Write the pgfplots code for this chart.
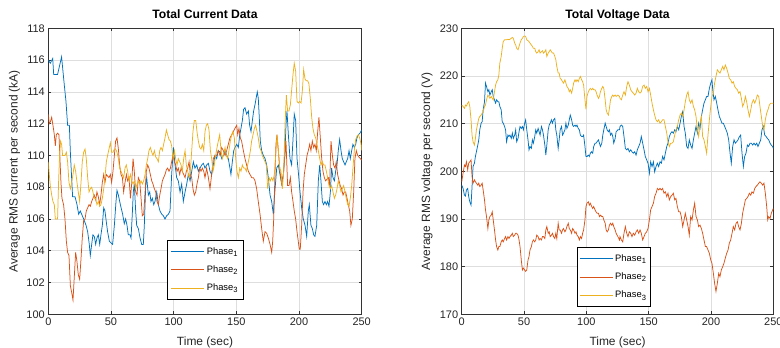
\documentclass[border=0pt]{standalone}
\usepackage{fontspec}
\setmainfont{Liberation Sans}
\usepackage{pgfplots}
\pgfplotsset{compat=1.18}
\definecolor{c1}{rgb}{0,0.447,0.741}
\definecolor{c2}{rgb}{0.85,0.325,0.098}
\definecolor{c3}{rgb}{0.929,0.694,0.125}
\newcommand{\sub}[1]{\raisebox{-0.45ex}{\fontsize{7.6}{8}\selectfont #1}}
\pgfplotsset{
  mstyle/.style={
    scale only axis, height=286bp,
    xmin=0, xmax=250, xtick={0,50,...,250},
    grid=major, grid style={color=black!13, line width=0.5bp},
    axis line style={color=black!80, line width=0.5bp},
    tick style={color=black!80, line width=0.5bp},
    tick align=inside, major tick length=3bp,
    /pgf/number format/assume math mode=true,
    ticklabel style={font=\fontsize{11}{13}\selectfont, color=black!85},
    label style={font=\fontsize{12}{14}\selectfont, color=black!85},
    xlabel style={at={(axis description cs:0.5,-0.108)}, anchor=base},
    title style={font=\bfseries\fontsize{12.2}{14}\selectfont, at={(axis description cs:0.5,1.015)}, anchor=base, yshift=0pt},
    legend cell align=left,
    legend image code/.code={\draw[#1, line width=0.75bp] plot coordinates {(0bp,0bp) (33bp,0bp)};},
    legend style={draw=black, line width=0.6bp, fill=white,
      font=\fontsize{9.4}{11}\selectfont, inner ysep=5bp, row sep=6bp},
    every axis plot/.append style={line width=0.75bp},
  }
}
\begin{document}
\begin{tikzpicture}
\path[use as bounding box] (0,0) rectangle (780bp,348bp);
\begin{axis}[mstyle, width=313.4bp, at={(48.3bp,33.7bp)}, anchor=south west,
  ymin=100, ymax=118, ytick={100,102,...,118},
  title={Total Current Data}, xlabel={Time (sec)},
  ylabel={Average RMS current per second (kA)},
  ylabel style={at={(axis description cs:-0.108,0.5)}, anchor=center},
  legend style={at={(axis description cs:0.378,0.26)}, anchor=north west, inner xsep=4bp}]
\addplot[c1] coordinates {
(0,116.0) (1.6,115.8) (3.5,116.1) (4.3,115.1) (7.4,115.1) (10.6,116.2) (12.8,114.4) (14.1,113.4) (15.4,111.9) (16.8,111.9) (17.6,110.2) (18.6,108.6) (19.4,107.4) (21.3,107.4) (22.9,106.9) (24.2,106.3) (25.5,106.5) (26.6,106.3) (28.2,106.0) (30.1,105.6) (31.4,105.2) (32.7,104.4) (33.5,103.7) (34.6,104.4) (35.6,105.0) (36.7,104.9) (37.8,104.4) (38.8,104.8) (39.9,105.0) (41.0,104.4) (42.0,105.0) (43.1,105.6) (44.2,106.7) (45.2,106.5) (46.3,105.8) (47.3,105.2) (48.7,104.6) (50.0,104.5) (51.3,104.4) (52.7,105.6) (54.0,107.1) (54.8,107.8) (55.9,107.5) (57.5,106.9) (59.3,106.3) (60.6,105.7) (61.7,106.0) (62.8,105.6) (63.8,105.0)
(65.2,105.0) (66.0,104.8) (67.0,106.3) (67.8,107.7) (68.6,108.2) (69.7,106.5) (70.5,105.6) (71.8,105.4) (73.2,104.8) (74.5,104.4) (75.8,104.4) (76.6,105.6) (77.7,108.1) (78.5,108.6) (79.8,107.5) (80.9,107.7) (81.9,107.1) (83.0,107.3) (84.1,106.9) (85.1,107.1) (86.5,107.7) (87.8,106.9) (89.1,106.5) (90.5,106.3) (91.8,106.2) (93.1,106.0) (94.4,106.2) (95.8,106.3) (97.1,106.5) (98.4,108.8) (99.8,110.5) (101.1,109.4) (102.4,108.6) (103.7,108.4) (105.1,107.7) (106.4,108.2) (107.7,107.1) (109.1,107.7) (110.4,108.2) (111.7,108.8) (113.1,108.4) (114.4,109.0) (115.7,109.6) (117.0,109.2) (118.4,109.4) (119.7,109.0) (121.0,109.2) (122.4,109.4) (123.7,109.5) (125.0,109.2)
(126.3,109.4) (127.7,109.5) (129.0,109.0) (130.3,108.8) (131.6,109.4) (133.0,110.0) (134.3,109.8) (135.6,110.3) (137.0,110.2) (138.3,109.8) (139.6,110.0) (141.0,110.3) (142.3,110.0) (143.6,109.8) (144.9,109.2) (145.7,108.8) (146.8,109.6) (147.9,110.3) (148.9,110.5) (150.3,110.7) (151.6,110.5) (152.7,111.3) (153.7,111.7) (154.8,112.2) (155.8,112.9) (156.9,113.0) (158.2,112.6) (159.6,112.8) (160.6,111.9) (161.7,111.5) (162.8,112.2) (163.8,112.8) (164.9,113.2) (166.0,113.7) (166.7,114.0) (167.5,113.6) (168.3,112.4) (169.1,110.9) (170.2,110.3) (171.5,110.0) (172.9,109.8) (174.2,109.4) (175.5,108.6) (176.9,107.5) (178.2,107.1) (179.5,106.3) (180.3,107.3) (181.4,108.4) (182.2,109.2) (183.5,109.4) (184.8,108.8) (186.2,108.2) (187.5,108.8) (188.8,110.3) (189.6,111.9) (190.4,112.8)
(191.5,111.3) (192.8,109.8) (194.1,109.4) (195.4,111.3) (196.2,112.6) (197.3,112.2) (198.4,109.8) (199.4,109.0) (200.8,107.7) (202.1,106.7) (203.4,106.0) (204.8,105.6) (206.1,104.9) (207.4,106.5) (208.2,106.9) (209.5,105.6) (210.6,105.4) (211.7,105.0) (212.7,104.9) (214.1,105.6) (215.4,108.4) (216.5,109.4) (217.5,108.4) (218.6,107.1) (219.6,106.9) (220.7,107.1) (221.8,106.9) (222.8,107.1) (223.9,106.8) (225.0,107.7) (226.0,109.2) (227.1,108.6) (228.2,108.4) (229.2,109.0) (230.3,109.4) (231.3,110.3) (232.4,111.0) (233.5,110.3) (234.5,109.8) (235.6,109.6) (236.7,109.4) (237.7,109.6) (238.8,109.8) (239.9,110.3) (240.9,109.8) (242.0,110.3) (243.0,110.7) (244.1,110.5) (245.2,110.7) (246.2,111.1) (247.3,111.3) (248.6,111.4) (250.0,111.6)
};
\addplot[c2] coordinates {
(0,112.6) (0.8,112.0) (1.6,112.1) (2.7,112.4) (3.7,111.9) (4.8,111.3) (5.6,110.6) (6.4,111.3) (7.4,111.4) (8.5,111.3) (9.3,109.8) (10.1,108.3) (10.9,107.3) (12.2,106.9) (13.3,106.0) (14.4,104.6) (15.4,103.9) (16.5,103.7) (17.6,101.8) (18.6,101.4) (19.7,100.9) (20.7,102.3) (21.8,103.9) (22.9,103.3) (23.9,102.5) (25.0,102.2) (26.1,103.5) (27.1,104.8) (28.2,105.9) (29.3,106.0) (30.3,106.5) (31.4,106.7) (32.5,106.9) (33.5,106.8) (34.6,107.1) (35.6,107.3) (36.7,107.5) (37.8,107.2) (38.8,107.7) (39.9,107.4) (41.0,106.9) (42.0,107.5) (43.1,108.3) (44.2,108.8) (45.2,108.3) (46.3,108.8) (47.3,108.7) (48.4,108.6) (49.5,108.8) (50.5,108.3) (51.6,109.0) (52.7,110.0) (53.7,110.9) (54.8,111.1) (55.9,110.4) (56.9,109.4) (58.0,108.8) (59.1,108.6) (60.1,107.7) (61.2,108.3)
(62.3,108.8) (63.3,108.4) (64.4,108.6) (65.5,107.3) (66.5,108.2) (67.6,109.8) (68.6,109.0) (69.7,107.7) (70.8,107.5) (71.8,108.6) (72.9,108.4) (74.0,107.3) (75.0,106.2) (76.1,106.3) (77.2,107.7) (78.2,109.0) (79.3,109.4) (80.3,109.2) (81.4,108.8) (82.5,108.4) (83.5,108.2) (84.6,107.9) (85.7,107.7) (86.7,107.1) (87.8,106.9) (88.9,107.5) (89.9,107.9) (91.0,108.4) (92.0,108.6) (93.1,108.8) (94.2,109.1) (95.2,109.2) (96.3,109.0) (97.4,109.2) (98.4,109.6) (99.5,110.0) (100.6,109.6) (101.6,109.4) (102.7,109.0) (103.7,109.2) (104.8,108.8) (105.9,109.2) (106.9,109.0) (108.0,108.8) (109.1,108.6) (110.1,109.0) (111.2,109.2) (112.3,109.6) (113.3,108.8) (114.4,108.6) (115.4,107.9) (116.5,107.5) (117.6,107.7) (118.6,108.2) (119.7,108.6) (120.8,109.2) (121.8,109.0) (122.9,109.2) (124.0,109.0) (125.0,108.6)
(126.3,109.2) (127.7,108.6) (129.0,107.9) (130.3,108.8) (131.6,109.8) (133.0,110.0) (134.3,110.0) (135.6,110.3) (137.0,110.0) (138.3,110.5) (139.6,110.3) (141.0,110.0) (142.3,110.3) (143.6,110.7) (144.9,111.1) (146.3,111.3) (147.6,111.5) (148.9,111.7) (150.3,111.9) (151.1,111.3) (152.1,111.7) (153.2,111.1) (154.2,110.9) (155.6,110.3) (156.9,109.8) (158.2,109.4) (159.6,109.0) (160.9,108.8) (162.3,108.6) (163.6,108.6) (164.9,108.4) (166.2,107.9) (167.5,107.1) (168.9,106.3) (170.2,105.4) (171.5,104.6) (172.9,105.2) (174.2,105.1) (175.5,104.8) (176.9,104.4) (178.2,103.9) (179.0,104.6) (179.8,106.0) (180.8,108.8) (181.6,110.7) (182.4,111.3) (183.5,110.3) (184.8,109.0) (186.2,108.2) (187.5,108.8) (188.8,110.0) (189.6,110.9)
(190.9,108.1) (192.0,108.1) (193.1,108.6) (194.1,107.7) (195.2,107.1) (196.2,106.5) (197.3,106.0) (198.4,105.2) (199.4,104.6) (200.2,104.1) (201.0,104.1) (202.1,105.6) (203.2,107.7) (204.2,108.8) (205.3,109.4) (206.4,110.0) (207.4,110.3) (208.5,110.7) (209.5,110.3) (210.6,110.9) (211.7,110.5) (212.7,110.7) (213.8,110.3) (214.9,111.5) (215.9,112.4) (217.0,111.1) (218.1,109.8) (219.1,109.0) (220.2,108.6) (221.2,108.4) (222.3,108.5) (223.4,108.6) (224.4,108.1) (225.5,110.9) (226.6,110.0) (227.6,109.4) (228.7,109.2) (229.7,109.6) (230.8,108.8) (231.9,108.4) (232.9,108.1) (234.0,107.9) (235.1,107.5) (236.1,107.7) (237.2,107.7) (238.3,107.3) (239.3,106.9) (240.4,106.5) (241.4,105.6) (242.5,106.0) (243.6,107.7) (244.6,109.8) (245.7,110.3) (246.8,110.0) (247.8,109.9) (248.9,109.8) (250.0,109.7)
};
\addplot[c3] coordinates {
(0,109.6) (0.8,108.8) (1.6,108.1) (2.7,107.5) (3.7,107.1) (4.8,106.9) (5.6,106.0) (6.4,106.0) (7.4,106.0) (8.2,108.3) (9.0,110.0) (9.8,110.9) (10.6,110.7) (11.4,110.0) (12.2,110.0) (13.3,110.0) (14.4,110.2) (15.4,109.6) (16.5,108.3) (17.6,107.9) (18.6,108.3) (19.7,108.8) (20.7,109.4) (21.8,109.0) (22.9,108.3) (23.9,107.7) (25.0,107.1) (26.1,108.3) (27.1,109.6) (28.2,110.2) (29.3,110.4) (30.3,109.8) (31.4,108.6) (32.5,107.7) (33.5,107.9) (34.6,108.0) (35.6,107.7) (36.7,107.3) (37.8,107.3) (38.8,106.9) (39.9,107.1) (41.0,106.8) (42.0,106.9) (43.1,107.3) (44.2,107.9) (45.2,108.6) (46.3,109.6) (47.3,110.0) (48.4,110.4) (49.5,110.8) (50.5,110.2) (51.6,110.2) (52.7,110.4) (53.7,110.4) (54.8,110.2) (55.9,109.8) (56.9,109.2) (58.0,109.0) (59.1,108.8) (60.1,108.6) (61.2,109.2) (62.2,109.4) (63.3,109.0)
(64.4,108.4) (65.5,108.8) (66.5,108.4) (67.6,108.2) (68.6,108.4) (69.7,107.9) (70.8,108.2) (71.8,108.4) (72.9,108.2) (74.0,108.4) (75.0,108.2) (76.1,108.4) (77.2,108.8) (78.2,109.4) (79.3,109.8) (80.3,110.3) (81.4,110.5) (82.5,110.2) (83.5,110.0) (84.6,110.3) (85.7,109.9) (86.7,109.8) (87.8,109.6) (88.9,110.3) (89.9,110.5) (91.0,110.3) (92.0,110.7) (93.1,111.1) (94.2,111.6) (95.2,111.3) (96.3,111.0) (97.4,110.9) (98.4,110.6) (99.5,109.8) (100.6,110.3) (101.6,109.8) (102.7,109.4) (103.7,109.8) (104.8,109.6) (105.9,109.4) (106.9,109.0) (108.0,109.8) (109.1,110.3) (110.1,109.4) (111.2,109.0) (112.3,108.6) (113.3,109.0) (114.4,110.3) (115.4,111.5) (116.5,112.2) (117.6,112.2) (118.6,111.5) (119.7,110.9) (120.8,110.5) (121.8,110.4) (122.9,110.7) (124.0,110.3) (125.0,111.5)
(126.1,111.9) (127.1,112.0) (128.2,111.6) (129.3,110.3) (130.3,109.8) (131.4,109.0) (132.4,109.4) (133.5,110.0) (134.6,110.5) (135.6,110.9) (136.7,111.3) (137.8,110.3) (138.8,109.8) (139.9,110.1) (141.0,110.5) (142.0,110.0) (143.1,109.8) (144.1,110.3) (145.2,110.9) (146.3,111.3) (147.3,111.5) (148.4,111.1) (149.5,109.8) (150.5,109.0) (151.6,108.6) (152.7,109.2) (153.7,109.0) (154.8,109.4) (155.8,109.2) (156.9,109.2) (158.0,109.0) (159.0,109.4) (160.1,109.8) (161.2,110.3) (162.2,110.9) (163.3,111.3) (164.4,111.7) (165.4,111.9) (166.5,111.5) (167.5,111.1) (168.6,110.5) (169.7,110.3) (170.7,110.0) (171.8,109.8) (172.9,109.6) (173.9,109.4) (175.0,107.9) (176.1,108.6) (177.1,108.4) (178.2,108.6) (179.2,108.4) (180.3,108.8) (181.4,110.0) (182.4,111.3) (183.5,110.3) (184.6,109.2) (185.6,109.0) (186.7,107.9) (187.8,109.0) (188.8,111.9) (189.9,113.8) (190.9,112.8)
(192.0,112.8) (193.1,113.2) (194.1,114.1) (195.2,115.1) (196.2,115.8) (197.3,115.3) (198.4,113.4) (199.4,113.3) (200.5,113.4) (201.6,113.3) (202.6,114.0) (203.7,115.4) (204.8,114.8) (205.8,114.7) (206.9,114.7) (207.9,114.5) (209.0,113.6) (210.1,112.4) (211.1,111.7) (212.2,111.3) (213.3,111.1) (214.3,110.7) (215.4,110.3) (216.5,109.8) (217.5,109.4) (218.6,109.6) (219.6,109.4) (220.7,109.4) (221.8,109.0) (222.8,108.6) (223.9,108.1) (225.0,107.9) (226.0,108.1) (227.1,107.7) (228.2,107.3) (229.2,107.5) (230.3,107.9) (231.3,108.4) (232.4,108.1) (233.5,107.7) (234.5,107.9) (235.6,108.1) (236.7,107.7) (237.7,107.3) (238.8,106.9) (239.9,106.8) (240.9,107.3) (242.0,108.1) (243.0,109.2) (244.1,110.3) (245.2,111.0) (246.2,111.2) (247.3,111.3) (248.4,111.1) (249.5,110.7) (250.0,110.3)
};
\legend{Phase\sub{1},Phase\sub{2},Phase\sub{3}}
\end{axis}
\begin{axis}[mstyle, width=311.6bp, at={(461.7bp,33.7bp)}, anchor=south west,
  ymin=170, ymax=230, ytick={170,180,...,230},
  title={Total Voltage Data}, xlabel={Time (sec)},
  ylabel={Average RMS voltage per second (V)},
  ylabel style={at={(axis description cs:-0.111,0.5)}, anchor=center},
  legend style={at={(axis description cs:0.369,0.234)}, anchor=north west, inner xsep=2.5bp}]
\addplot[c1] coordinates {
(0,197.1) (1.1,196.4) (2.2,195.0) (3.0,194.8) (3.8,196.1) (4.8,196.4) (5.6,194.7) (6.5,193.6) (7.5,192.9) (8.3,196.8) (9.1,201.0) (10.2,201.7) (11.0,203.1) (11.8,204.1) (12.9,205.5) (13.7,206.6) (14.5,208.7) (15.6,210.1) (16.4,210.4) (17.2,212.9) (18.3,214.6) (19.1,218.5) (19.9,217.8) (21.0,216.7) (21.8,217.1) (22.6,216.0) (23.7,216.7) (24.5,217.1) (25.3,215.7) (26.3,215.0) (27.2,214.3) (28.0,215.0) (29.0,214.6) (29.8,214.6) (30.6,213.6) (31.7,212.9) (32.5,210.4) (33.3,210.1) (34.4,209.4) (35.2,208.7) (36.0,206.2) (37.1,207.6) (37.9,207.3) (38.7,207.6) (39.8,206.9) (40.6,208.0) (41.4,206.9) (42.5,207.6) (43.3,208.7) (44.1,206.2) (45.2,206.9) (46.0,208.3) (46.8,209.4) (47.8,209.0) (48.7,209.4) (49.5,208.7) (50.5,210.1) (51.3,210.8) (52.2,208.7) (53.2,206.6) (54.0,204.5) (54.8,205.2) (55.9,204.8) (56.7,206.6) (57.5,205.9) (58.6,207.3) (59.4,208.7) (60.2,208.0) (61.3,209.0) (62.1,208.3) (62.9,207.6) (64.0,209.4) (64.8,208.7) (65.6,207.6) (66.7,205.5) (67.5,203.4) (68.3,205.5) (69.4,208.7) (70.2,209.7) (71.0,210.1) (72.0,210.8) (72.8,210.1) (73.7,210.8) (74.7,211.1) (75.5,208.7) (76.3,207.6) (77.4,204.8) (78.2,206.6) (79.0,208.7) (80.1,209.4) (80.9,207.6) (81.7,208.0) (82.8,208.7) (83.6,210.1) (84.4,209.0) (85.5,209.7) (86.3,210.8) (87.1,211.8) (88.2,210.8) (89.0,209.7) (89.8,209.4) (90.9,209.7) (91.7,209.4) (92.5,209.7) (93.5,209.0) (94.4,208.7) (95.2,207.6) (96.2,207.3) (97.0,207.3) (97.8,207.6) (98.9,205.2) (99.7,203.1) (100.5,203.1) (101.6,203.4) (102.4,203.1) (103.2,203.8) (104.3,204.1) (105.1,203.8) (105.9,205.2) (107.0,205.9) (107.8,205.9) (108.6,206.2) (109.7,206.6) (110.5,205.9) (111.3,205.2) (112.4,205.9) (113.2,207.6) (114.0,208.7) (115.1,210.1) (115.9,209.4) (116.7,208.7) (117.7,208.3) (118.5,208.7) (119.4,207.6) (120.4,208.0) (121.2,207.3) (122.0,205.9) (123.1,206.9) (123.9,208.3) (125.3,208.7) (126.6,208.7)
(127.0,209.4) (128.1,209.7) (129.2,209.4) (130.2,207.3) (131.3,204.8) (132.4,204.5) (133.4,204.8) (134.5,204.1) (135.6,204.5) (136.6,204.1) (137.7,203.8) (138.8,204.1) (139.9,203.4) (140.9,204.5) (142.0,205.2) (143.1,205.9) (144.1,207.3) (145.2,205.9) (146.3,204.5) (147.3,203.1) (148.4,202.4) (149.5,201.7) (150.6,199.6) (151.6,202.0) (152.7,201.0) (153.8,202.0) (154.8,199.9) (155.9,201.0) (157.0,201.7) (158.0,201.0) (159.1,202.0) (160.2,201.7) (161.2,203.1) (162.3,202.4) (163.4,203.8) (164.5,205.2) (165.5,205.9) (166.6,207.3) (167.7,208.0) (168.7,208.3) (169.8,208.0) (170.9,208.7) (171.9,208.3) (173.0,209.4) (174.1,208.7) (175.2,210.1) (176.2,211.5) (177.3,212.5) (178.4,209.4) (179.4,208.0) (180.5,205.2) (181.6,204.8) (182.6,206.6) (183.7,205.5) (184.8,204.8) (185.9,206.6) (186.9,208.0) (188.0,209.4) (189.1,208.0) (190.1,210.1) (191.2,209.0) (192.3,211.5) (193.3,212.9) (194.4,214.3) (195.5,215.0) (196.5,215.7) (197.6,215.7) (198.7,217.4) (199.8,218.5) (200.8,219.2) (201.4,217.1) (202.4,215.0) (203.5,215.7) (204.6,214.3) (205.6,212.9) (206.7,211.5) (207.8,210.8) (208.8,210.1) (209.9,210.1) (211.0,209.4) (212.1,208.7) (213.1,208.0) (214.2,206.6) (215.3,203.8) (216.3,201.7) (217.4,205.2) (218.5,206.6) (219.5,205.9) (220.6,206.2) (221.7,206.6) (222.8,207.3) (223.8,207.6) (224.9,203.8) (226.0,201.0) (227.0,203.1) (228.1,203.8) (229.2,205.5) (230.2,205.2) (231.3,205.9) (232.4,205.9) (233.5,205.5) (234.5,205.9) (235.6,205.5) (236.7,205.9) (237.7,205.2) (238.8,205.9) (239.9,206.6) (240.9,208.7) (242.0,209.4) (243.1,207.6) (244.2,207.3) (245.2,206.9) (246.3,206.6) (247.4,205.9) (248.4,205.5) (249.5,205.2) (250.0,204.8)
};
\addplot[c2] coordinates {
(0,197.8) (1.1,199.6) (2.2,201.3) (3.0,201.0) (3.8,202.0) (4.8,200.3) (5.6,201.7) (6.5,202.0) (7.5,202.4) (8.3,198.9) (9.1,197.5) (10.2,198.2) (11.0,197.8) (11.8,197.5) (12.9,197.1) (13.7,197.5) (14.5,196.8) (15.6,197.1) (16.4,197.5) (17.2,196.1) (18.3,194.0) (19.1,191.9) (19.9,190.5) (21.0,188.0) (21.8,189.8) (22.6,190.5) (23.7,190.8) (24.5,191.5) (25.3,189.8) (26.3,187.7) (27.2,185.6) (28.0,184.2) (29.0,183.5) (29.8,184.2) (30.6,184.2) (31.7,185.2) (32.5,185.6) (33.3,185.2) (34.4,185.9) (35.2,186.3) (36.0,185.6) (37.1,186.3) (37.9,185.9) (38.7,186.3) (39.8,186.6) (40.6,187.0) (41.4,186.3) (42.5,186.6) (43.3,187.0) (44.1,187.0) (45.2,186.6) (46.0,185.6) (46.8,184.2) (47.8,181.4) (48.7,179.3) (49.5,179.7) (50.5,179.3) (51.3,179.0) (52.2,179.3) (53.2,181.4) (54.0,182.1) (54.8,183.5) (55.9,184.2) (56.7,185.2) (57.5,185.6) (58.6,185.2) (59.4,185.6) (60.2,186.6) (61.3,186.3) (62.1,185.6) (62.9,185.9) (64.0,185.6) (64.8,186.3) (65.6,186.3) (66.7,185.9) (67.5,187.7) (68.3,188.4) (69.4,187.0) (70.2,187.3) (71.0,186.3) (72.0,186.6) (72.8,187.0) (73.7,186.3) (74.7,185.9) (75.5,187.0) (76.3,185.9) (77.4,189.1) (78.2,187.7) (79.0,187.7) (80.1,187.0) (80.9,187.7) (81.7,188.0) (82.8,187.3) (83.6,187.7) (84.4,188.4) (85.5,189.1) (86.3,188.0) (87.1,187.7) (88.2,187.0) (89.0,188.0) (89.8,187.7) (90.9,187.0) (91.7,187.3) (92.5,186.6) (93.5,186.3) (94.4,185.6) (95.2,186.3) (96.2,185.9) (97.0,187.0) (97.8,187.7) (98.9,189.8) (99.7,192.6) (100.5,193.3) (101.6,193.6) (102.4,192.9) (103.2,193.3) (104.3,192.6) (105.1,192.2) (105.9,192.6) (107.0,191.9) (107.8,191.5) (108.6,191.2) (109.7,191.2) (110.5,190.5) (111.3,190.8) (112.4,190.5) (113.2,190.5) (114.0,189.8) (115.1,189.1) (115.9,187.7) (116.7,187.3) (117.7,187.7) (118.5,188.7) (119.4,189.1) (120.4,188.7) (121.2,189.1) (122.0,188.4) (123.1,187.7) (123.9,187.0) (125.3,186.3) (126.6,185.6)
(127.0,186.3) (128.1,185.6) (129.2,185.2) (130.2,187.0) (131.3,188.4) (132.4,187.0) (133.4,186.3) (134.5,187.3) (135.6,187.0) (136.6,186.3) (137.7,187.0) (138.8,186.6) (139.9,187.3) (140.9,187.7) (142.0,187.0) (143.1,187.7) (144.1,187.0) (145.2,185.6) (146.3,186.3) (147.3,187.0) (148.4,187.3) (149.5,188.0) (150.6,189.8) (151.6,191.9) (152.7,192.6) (153.8,193.3) (154.8,194.7) (155.9,195.4) (157.0,196.4) (158.0,196.1) (159.1,196.4) (160.2,196.1) (161.2,196.4) (162.3,195.4) (163.4,195.7) (164.5,194.7) (165.5,195.4) (166.6,194.0) (167.7,194.7) (168.7,195.0) (169.8,195.4) (170.9,194.0) (171.9,194.3) (173.0,192.6) (174.1,191.5) (175.2,191.5) (176.2,190.5) (177.3,188.4) (178.4,189.8) (179.4,191.2) (180.5,189.8) (181.6,188.4) (182.6,186.6) (183.7,190.5) (184.8,189.8) (185.9,191.9) (186.9,193.3) (188.0,190.5) (189.1,189.8) (190.1,188.4) (191.2,188.7) (192.3,188.0) (193.3,187.0) (194.4,185.6) (195.5,184.2) (196.5,184.2) (197.6,183.5) (198.7,182.8) (199.8,181.4) (200.8,180.7) (201.9,178.6) (202.9,176.5) (204.0,174.8) (205.1,176.5) (206.2,178.6) (207.2,177.9) (208.3,179.3) (209.4,180.0) (210.4,180.7) (211.5,181.8) (212.6,182.8) (213.7,183.5) (214.7,184.9) (215.8,185.6) (216.9,187.0) (217.9,188.4) (219.0,187.7) (220.1,189.1) (221.2,189.4) (222.2,188.4) (223.3,187.7) (224.4,189.1) (225.4,191.2) (226.5,192.6) (227.6,194.0) (228.6,194.3) (229.7,194.7) (230.8,195.4) (231.9,195.0) (232.9,195.7) (234.0,195.4) (235.1,196.4) (236.1,196.8) (237.2,197.1) (238.3,197.5) (239.3,197.8) (240.4,197.5) (241.5,197.1) (242.5,197.5) (243.6,195.4) (244.7,192.6) (245.5,189.8) (246.3,190.5) (247.4,190.1) (248.4,191.2) (249.5,191.9) (250.0,192.2)
};
\addplot[c3] coordinates {
(0,213.9) (1.1,213.6) (2.2,213.2) (3.0,213.9) (3.8,213.7) (4.8,214.3) (5.6,214.6) (6.5,213.6) (7.5,210.8) (8.3,207.6) (9.1,206.2) (10.2,205.5) (11.0,206.9) (11.8,208.7) (12.9,210.1) (13.7,211.1) (14.5,211.5) (15.6,211.8) (16.4,212.2) (17.2,212.5) (18.3,213.6) (19.1,213.9) (19.9,215.0) (21.0,216.0) (21.8,215.7) (22.6,215.3) (23.7,215.7) (24.5,215.3) (25.3,215.0) (26.3,216.7) (27.2,218.1) (28.0,218.8) (29.0,219.2) (29.8,220.2) (30.6,222.7) (31.7,224.1) (32.5,225.8) (33.3,227.2) (34.4,227.6) (35.2,227.6) (36.0,227.6) (37.1,227.7) (37.9,227.6) (38.7,227.7) (39.8,227.9) (40.6,228.1) (41.4,227.9) (42.5,226.9) (43.3,226.5) (44.1,225.8) (45.2,225.5) (46.0,226.2) (46.8,226.9) (47.8,227.6) (48.7,227.9) (49.5,228.3) (50.5,228.4) (51.3,228.3) (52.2,227.6) (53.2,227.4) (54.0,227.2) (54.8,226.9) (55.9,226.5) (56.7,226.2) (57.5,225.8) (58.6,225.8) (59.4,225.1) (60.2,224.8) (61.3,225.1) (62.1,225.5) (62.9,224.8) (64.0,225.1) (64.8,225.3) (65.6,224.8) (66.7,225.1) (67.5,225.5) (68.3,224.1) (69.4,224.8) (70.2,225.1) (71.0,225.5) (72.0,225.1) (72.8,224.8) (73.7,224.8) (74.7,224.1) (75.5,223.4) (76.3,222.0) (77.4,220.6) (78.2,220.6) (79.0,219.5) (80.1,219.2) (80.9,218.8) (81.7,218.5) (82.8,219.2) (83.6,218.5) (84.4,217.8) (85.5,217.4) (86.3,216.7) (87.1,217.1) (88.2,216.4) (89.0,217.4) (89.8,218.5) (90.9,219.2) (91.7,218.8) (92.5,219.2) (93.5,218.8) (94.4,219.5) (95.2,219.9) (96.2,219.2) (97.0,218.8) (97.8,218.1) (98.9,215.0) (99.7,213.0) (100.5,215.7) (101.6,216.7) (102.4,217.1) (103.2,217.4) (104.3,217.1) (105.1,217.4) (105.9,217.1) (107.0,217.1) (107.8,216.7) (108.6,216.0) (109.7,215.3) (110.5,215.7) (111.3,216.7) (112.4,217.4) (113.2,217.8) (114.0,217.4) (115.1,215.0) (115.9,212.9) (116.7,212.2) (117.7,211.8) (118.5,213.2) (119.4,215.0) (120.4,215.7) (121.2,216.0) (122.0,215.7) (123.1,216.0) (123.9,215.7) (125.3,216.0) (126.6,215.7)
(127.0,215.3) (128.1,215.0) (129.2,216.0) (130.2,216.7) (131.3,216.0) (132.4,217.8) (133.4,218.8) (134.5,218.1) (135.6,217.1) (136.6,216.7) (137.7,216.4) (138.8,216.0) (139.9,216.4) (140.9,217.4) (142.0,216.7) (143.1,216.4) (144.1,216.7) (145.2,217.8) (146.3,218.1) (147.3,217.4) (148.4,217.8) (149.5,216.7) (150.6,217.4) (151.6,216.0) (152.7,214.3) (153.8,212.9) (154.8,211.8) (155.9,210.8) (157.0,210.4) (158.0,210.8) (159.1,210.1) (160.2,210.4) (161.2,210.8) (162.3,210.8) (163.4,209.4) (164.5,208.0) (165.5,206.2) (166.6,205.2) (167.7,205.9) (168.7,205.9) (169.8,206.2) (170.9,207.6) (171.9,208.7) (173.0,209.4) (174.1,210.8) (175.2,211.8) (176.2,212.2) (177.3,211.5) (178.4,212.9) (179.4,214.6) (180.5,216.0) (181.6,216.7) (182.6,215.0) (183.7,214.3) (184.8,215.0) (185.9,213.6) (186.9,212.9) (188.0,211.5) (189.1,208.7) (190.1,207.3) (191.2,210.1) (192.3,211.5) (193.3,207.3) (194.4,206.6) (195.5,205.2) (196.5,203.8) (197.6,207.6) (198.7,210.8) (199.8,213.6) (200.8,215.7) (201.9,216.4) (202.9,218.5) (204.0,219.9) (205.1,221.3) (206.2,220.9) (207.2,220.6) (208.3,221.3) (209.4,222.0) (210.4,221.3) (211.5,222.3) (212.6,221.6) (213.7,220.6) (214.7,219.5) (215.8,219.2) (216.9,218.5) (217.9,218.8) (219.0,217.8) (220.1,217.4) (221.2,217.1) (222.2,216.4) (223.3,216.7) (224.4,215.3) (225.4,213.6) (226.5,214.3) (227.6,215.7) (228.6,214.6) (229.7,212.9) (230.8,211.5) (231.9,212.9) (232.9,214.3) (234.0,215.0) (235.1,214.3) (236.1,215.0) (237.2,216.0) (238.3,215.7) (239.3,213.6) (240.4,211.5) (241.5,209.4) (242.5,208.7) (243.6,210.8) (244.7,212.2) (245.7,212.9) (246.8,213.9) (247.9,214.3) (248.9,214.3) (250.0,214.3)
};
\legend{Phase\sub{1},Phase\sub{2},Phase\sub{3}}
\end{axis}
\end{tikzpicture}
\end{document}
